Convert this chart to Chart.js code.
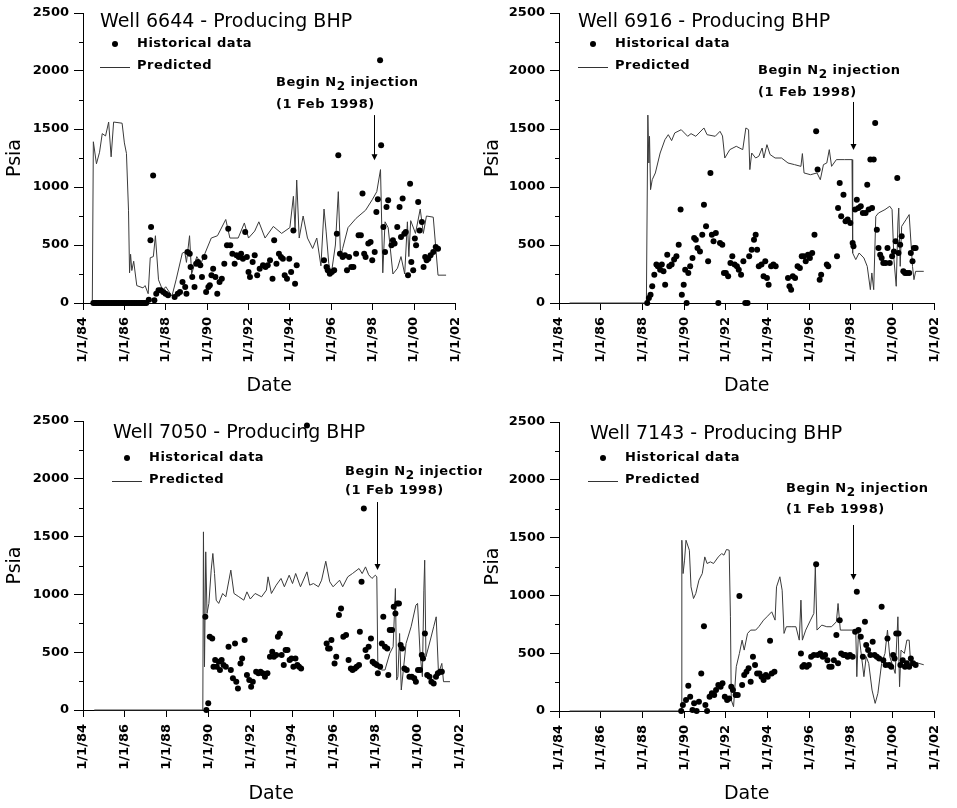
<!DOCTYPE html>
<html>
<head>
<meta charset="utf-8">
<script src="https://cdn.jsdelivr.net/npm/chart.js@4.4.1/dist/chart.umd.min.js"></script>
<style>
  body { margin: 0; background: #fff; }
  #wrap { position: relative; width: 957px; height: 808px; overflow: hidden; }
  canvas { position: absolute; }
</style>
</head>
<body>
<div id="wrap">
  <canvas id="c1" width="478" height="400" style="left:0;top:0;z-index:1"></canvas>
  <canvas id="c2" width="479" height="400" style="left:478px;top:0;z-index:2"></canvas>
  <canvas id="c3" width="482" height="408" style="left:0;top:400px;z-index:1"></canvas>
  <canvas id="c4" width="479" height="408" style="left:478px;top:400px;z-index:2"></canvas>
</div>
<script>
// x axis ticks (decimal year) and their labels
const tickYears = [1984, 1986, 1988, 1990, 1992, 1994, 1996, 1998, 2000, 2002];
const tickLabels = ['1/1/84', '1/1/86', '1/1/88', '1/1/90', '1/1/92', '1/1/94', '1/1/96', '1/1/98', '1/1/00', '1/1/02'];
const yTickLabels = ['0', '500', '1000', '1500', '2000', '2500'];
const injectionDate = 1998.08; // 1 Feb 1998

// ---- Well 6644 ----
const hist6644Dates = [
  1984.50,1984.58,1984.66,1984.74,1984.82,1984.90,1984.98,1985.06,1985.14,1985.22,
  1985.30,1985.38,1985.46,1985.54,1985.62,1985.70,1985.78,1985.86,1985.94,1986.02,
  1986.10,1986.18,1986.26,1986.34,1986.42,1986.50,1986.58,1986.66,1986.74,1986.82,
  1986.90,1986.98,1987.06,
  1987.18,1987.26,1987.29,1987.39,1987.45,1987.54,1987.65,1987.76,1987.88,1987.99,
  1988.11,1988.43,1988.58,1988.69,1988.81,1988.94,1989.00,1989.05,1989.16,1989.20,
  1989.28,1989.39,1989.47,1989.56,1989.67,1989.75,1989.87,1989.95,1990.06,1990.13,
  1990.21,1990.29,1990.40,1990.49,1990.60,1990.71,1990.83,1990.96,1991.02,1991.12,
  1991.22,1991.33,1991.42,1991.53,1991.64,1991.73,1991.84,1991.92,1992.00,1992.07,
  1992.20,1992.30,1992.42,1992.54,1992.70,1992.82,1992.93,1993.04,1993.16,1993.24,
  1993.35,1993.47,1993.57,1993.66,1993.75,1993.86,1993.97,1994.06,1994.17,1994.25,
  1994.33,1995.65,1995.77,1995.83,1995.93,1996.03,1996.14,1996.27,1996.34,1996.42,
  1996.55,1996.66,1996.76,1996.86,1996.97,1997.07,1997.20,1997.32,1997.43,1997.51,
  1997.59,1997.66,1997.79,1997.90,1997.98,1998.10,1998.18,1998.25,1998.36,1998.41,
  1998.52,1998.60,1998.67,1998.75,1998.91,1998.98,1999.06,1999.19,1999.30,1999.37,
  1999.45,1999.53,1999.60,1999.71,1999.81,1999.87,1999.96,2000.04,2000.10,2000.20,
  2000.27,2000.38,2000.46,2000.54,2000.61,2000.69,2000.80,2000.93,2001.05,2001.16
];
const hist6644Psia = [
  0,0,0,0,0,0,0,0,0,0,
  0,0,0,0,0,0,0,0,0,0,
  0,0,0,0,0,0,0,0,0,0,
  0,0,0,
  29,540,655,1100,23,80,109,109,95,80,
  66,52,80,95,181,138,80,440,425,310,
  224,138,339,353,325,224,397,95,138,152,
  239,296,224,80,181,210,339,497,641,497,
  425,339,411,397,425,382,612,397,267,224,
  353,411,239,296,325,310,325,368,210,540,
  339,425,397,382,239,210,382,267,626,167,
  325,368,310,282,253,267,282,598,1273,425,
  397,411,282,397,310,310,425,583,583,943,
  425,397,512,526,368,440,785,894,2092,1360,
  655,440,828,885,497,540,512,655,828,569,
  900,598,612,239,1029,353,282,555,497,871,
  626,698,310,397,368,382,411,440,483,468
];
const pred6644Dates = [
  1984.45,1984.50,1984.65,1984.80,1984.93,1985.09,1985.24,1985.36,1985.48,1985.89,
  1986.00,1986.10,1986.20,1986.25,1986.30,1986.36,1986.45,1986.60,1986.90,1987.00,
  1987.15,1987.25,1987.40,1987.50,1987.65,1987.85,1988.00,1988.30,1988.50,1988.80,
  1988.92,1989.00,1989.15,1989.25,1989.50,1989.70,1989.90,1990.20,1990.50,1990.90,
  1991.10,1991.50,1991.80,1992.00,1992.30,1992.50,1992.80,1993.20,1993.60,1994.00,
  1994.17,1994.25,1994.33,1994.45,1994.64,1994.85,1995.10,1995.30,1995.50,1995.65,
  1995.75,1995.88,1996.00,1996.20,1996.34,1996.45,1996.55,1996.81,1997.20,1997.66,
  1997.98,1998.20,1998.38,1998.49,1998.60,1998.75,1998.98,1999.20,1999.37,1999.55,
  1999.68,1999.75,1999.84,2000.07,2000.30,2000.45,2000.60,2000.93,2001.16,2001.55
];
const pred6644Psia = [
  0,1390,1200,1300,1460,1440,1560,1260,1560,1550,
  1380,1290,800,260,420,280,360,150,130,150,
  80,390,400,580,200,110,140,60,200,430,
  440,350,580,250,400,340,430,560,580,720,
  560,560,690,560,620,700,560,660,600,650,
  920,640,1060,560,750,560,470,560,320,810,
  620,340,250,500,960,400,470,650,730,800,
  890,960,1150,260,700,650,250,300,400,250,
  700,400,710,600,810,600,750,740,240,240
];

// ---- Well 6916 ----
const hist6916Dates = [
  1988.23,1988.31,1988.39,1988.47,1988.57,1988.67,1988.74,1988.85,1988.93,1989.01,
  1989.09,1989.19,1989.29,1989.40,1989.52,1989.63,1989.74,1989.83,1989.89,1989.98,
  1990.05,1990.12,1990.20,1990.29,1990.40,1990.48,1990.56,1990.64,1990.76,1990.87,
  1990.95,1991.05,1991.15,1991.26,1991.33,1991.41,1991.52,1991.64,1991.72,1991.83,
  1991.91,1992.00,1992.11,1992.22,1992.31,1992.42,1992.53,1992.62,1992.73,1992.84,
  1992.93,1993.04,1993.12,1993.24,1993.35,1993.43,1993.50,1993.58,1993.71,1993.81,
  1993.89,1993.97,1994.05,1994.17,1994.28,1994.39,1994.98,1995.05,1995.13,1995.21,
  1995.32,1995.44,1995.55,1995.64,1995.75,1995.83,1995.94,1996.03,1996.14,1996.25,
  1996.33,1996.40,1996.50,1996.57,1996.84,1996.91,1997.33,1997.38,1997.46,1997.53,
  1997.64,1997.74,1997.84,1997.97,1998.08,1998.12,1998.20,1998.28,1998.36,1998.47,
  1998.57,1998.70,1998.78,1998.85,1998.93,1999.01,1999.09,1999.16,1999.24,1999.32,
  1999.40,1999.47,1999.55,1999.66,1999.75,1999.86,1999.97,2000.06,2000.14,2000.22,
  2000.28,2000.36,2000.43,2000.51,2000.59,2000.68,2000.79,2000.87,2000.95,2001.02,2001.10
];
const hist6916Psia = [
  0,43,72,144,244,331,316,287,331,273,
  158,417,316,331,374,402,503,805,72,158,
  287,0,259,316,388,560,546,474,445,589,
  848,661,359,1121,589,532,604,0,517,503,
  259,259,230,345,402,331,316,287,244,359,
  0,0,402,460,546,589,460,316,331,230,
  359,216,158,316,331,316,216,144,115,230,
  216,316,302,402,402,359,417,388,431,589,
  1480,1150,201,244,331,316,402,819,1035,747,
  934,704,719,690,517,489,805,891,819,834,
  776,776,1020,805,1236,819,1236,1552,632,474,
  417,388,345,345,474,345,402,445,532,1078,
  431,503,575,273,259,259,259,431,359,474,474
];
const pred6916Dates = [
  1984.51,1988.19,1988.26,1988.31,1988.34,1988.39,1988.47,1988.62,1988.85,1989.08,
  1989.24,1989.40,1989.55,1989.86,1990.17,1990.33,1990.56,1990.95,1991.10,1991.49,
  1991.72,1991.84,1991.95,1992.19,1992.50,1992.81,1992.96,1993.09,1993.15,1993.24,
  1993.43,1993.58,1993.74,1993.82,1993.97,1994.12,1994.36,1994.67,1994.98,1995.29,
  1995.60,1995.67,1995.75,1996.06,1996.37,1996.53,1996.68,1996.84,1996.96,1997.07,
  1997.30,1997.69,1998.05,1998.08,1998.23,1998.39,1998.62,1998.78,1998.93,1999.00,
  1999.09,1999.19,1999.32,1999.63,1999.86,1999.97,2000.06,2000.17,2000.25,2000.29,
  2000.36,2000.43,2000.64,2000.79,2000.95,2001.02,2001.10,2001.49
];
const pred6916Psia = [
  0,0,1620,1207,1437,977,1063,1121,1293,1408,
  1451,1400,1466,1494,1437,1460,1437,1509,1451,1437,
  1480,1440,1250,1322,1351,1322,1509,1494,1150,1293,
  1250,1265,1336,1250,1365,1280,1250,1250,1207,1193,
  1178,1288,1121,1106,1121,1063,1193,1207,1322,1178,
  1236,1236,1236,431,374,431,388,316,115,259,
  115,747,776,805,834,805,374,144,690,819,
  316,661,719,762,316,201,273,273
];

// ---- Well 7050 ----
const hist7050Dates = [
  1989.85,1989.90,1989.99,1990.06,1990.18,1990.24,1990.32,1990.40,1990.49,1990.55,
  1990.63,1990.72,1990.83,1990.96,1991.07,1991.17,1991.27,1991.33,1991.41,1991.53,
  1991.61,1991.73,1991.84,1991.95,1992.04,1992.12,1992.28,1992.39,1992.49,1992.59,
  1992.70,1992.82,1992.94,1993.05,1993.13,1993.24,1993.32,1993.41,1993.50,1993.60,
  1993.69,1993.78,1993.88,1993.97,1994.06,1994.16,1994.25,1994.33,1994.43,1994.71,
  1995.65,1995.72,1995.80,1995.88,1996.03,1996.11,1996.24,1996.34,1996.45,1996.58,
  1996.70,1996.81,1996.89,1997.00,1997.09,1997.20,1997.24,1997.32,1997.43,1997.51,
  1997.59,1997.66,1997.77,1997.85,1997.94,1998.05,1998.10,1998.21,1998.29,1998.36,
  1998.44,1998.55,1998.60,1998.67,1998.78,1998.86,1998.94,1999.03,1999.11,1999.19,
  1999.26,1999.37,1999.48,1999.61,1999.72,1999.84,1999.92,2000.02,2000.12,2000.20,
  2000.26,2000.35,2000.46,2000.57,2000.66,2000.77,2000.88,2000.97,2001.08,2001.16
];
const hist7050Psia = [
  806,0,58,634,619,374,432,374,418,346,
  432,389,374,547,346,274,576,245,187,403,
  446,605,302,259,202,245,331,317,331,317,
  288,317,461,504,461,475,634,662,475,389,
  518,518,432,446,374,446,389,374,360,2462,
  576,533,533,605,403,461,821,878,634,648,
  432,360,346,360,374,389,677,1109,1742,518,
  461,547,619,418,403,389,317,374,576,806,
  547,533,302,691,691,893,835,922,922,562,
  533,360,346,288,288,274,245,346,346,475,
  446,662,302,288,245,230,288,317,331,331
];
const pred7050Dates = [
  1984.54,1989.73,1989.76,1989.81,1989.87,1989.93,1990.02,1990.13,1990.21,1990.29,
  1990.37,1990.49,1990.68,1990.83,1991.07,1991.22,1991.45,1991.69,1991.84,1992.00,
  1992.23,1992.54,1992.77,1992.85,1993.01,1993.24,1993.47,1993.63,1993.86,1994.02,
  1994.17,1994.40,1994.71,1994.84,1995.02,1995.26,1995.41,1995.61,1995.80,1995.96,
  1996.27,1996.42,1996.66,1996.89,1997.20,1997.35,1997.51,1997.66,1997.82,1997.98,
  1998.05,1998.10,1998.29,1998.44,1998.67,1998.83,1998.94,1999.00,1999.06,1999.14,
  1999.22,1999.45,1999.69,1999.92,2000.00,2000.12,2000.23,2000.30,2000.34,2000.40,
  2000.61,2000.77,2000.89,2001.00,2001.16,2001.24,2001.55
];
const pred7050Psia = [
  0,0,1541,374,1368,835,922,1210,1354,1181,
  950,922,1008,979,1210,1008,980,950,1022,960,
  1008,979,1037,1152,1008,1080,1138,1066,1166,1094,
  1181,1066,1195,1080,1094,1066,1123,1287,1109,1066,
  1123,1066,1152,1181,1224,1180,1238,1170,1138,1166,
  1152,374,346,346,490,547,1051,259,288,662,
  173,576,720,907,922,490,288,1037,1296,461,
  605,720,806,317,403,245,245
];

// ---- Well 7143 ----
const hist7143Dates = [
  1989.86,1989.94,1990.09,1990.20,1990.29,1990.40,1990.48,1990.60,1990.71,1990.82,
  1990.95,1991.02,1991.10,1991.22,1991.33,1991.44,1991.53,1991.64,1991.75,1991.84,
  1991.95,1992.06,1992.16,1992.26,1992.34,1992.47,1992.57,1992.65,1992.78,1992.88,
  1992.99,1993.09,1993.19,1993.30,1993.40,1993.50,1993.61,1993.71,1993.81,1993.92,
  1994.01,1994.12,1994.20,1994.33,1995.60,1995.67,1995.75,1995.88,1995.98,1996.09,
  1996.22,1996.33,1996.40,1996.53,1996.65,1996.76,1996.87,1996.96,1997.07,1997.18,
  1997.30,1997.38,1997.46,1997.53,1997.64,1997.74,1997.84,1997.95,1998.08,1998.20,
  1998.28,1998.36,1998.47,1998.57,1998.67,1998.73,1998.82,1998.93,1999.04,1999.13,
  1999.24,1999.35,1999.47,1999.55,1999.66,1999.75,1999.83,1999.93,2000.02,2000.09,
  2000.17,2000.28,2000.37,2000.48,2000.59,2000.68,2000.79,2000.87,2000.98,2001.10
];
const hist7143Psia = [
  0,52,95,219,124,9,66,0,81,325,
  734,52,0,124,153,138,181,225,210,239,
  124,95,109,210,181,138,138,994,225,311,
  340,369,253,469,397,325,325,297,268,311,
  297,608,325,340,498,383,397,383,397,469,
  484,1270,484,498,469,484,440,383,383,440,
  657,412,786,498,484,484,469,484,469,686,
  1031,700,642,469,772,570,527,484,599,484,
  469,455,901,440,397,628,397,383,484,455,
  671,671,397,440,383,412,383,455,412,397
];
const pred7143Dates = [
  1984.51,1989.86,1989.89,1989.95,1990.02,1990.09,1990.25,1990.33,1990.45,1990.56,
  1990.71,1990.87,1990.99,1991.10,1991.26,1991.41,1991.64,1991.80,1991.91,1992.03,
  1992.16,1992.22,1992.26,1992.37,1992.50,1992.65,1992.78,1992.88,1993.04,1993.19,
  1993.43,1993.58,1993.81,1993.97,1994.20,1994.36,1994.43,1994.59,1994.70,1994.79,
  1994.90,1995.13,1995.36,1995.52,1995.60,1995.67,1995.83,1996.06,1996.22,1996.29,
  1996.37,1996.60,1996.84,1997.07,1997.30,1997.38,1997.49,1998.08,1998.23,1998.28,
  1998.36,1998.47,1998.62,1998.73,1998.85,1999.01,1999.16,1999.29,1999.47,1999.63,
  1999.75,1999.86,2000.02,2000.12,2000.25,2000.33,2000.40,2000.56,2000.68,2000.79,
  2000.87,2001.10,2001.49
];
const pred7143Psia = [
  0,0,1477,1189,1305,1477,1391,1074,973,1017,
  1132,1189,1333,1276,1290,1276,1333,1362,1348,1397,
  1391,815,95,37,383,498,613,527,671,700,
  700,729,786,815,858,786,1074,1161,1045,671,
  729,729,729,613,959,613,700,786,844,1247,
  700,743,729,729,772,930,700,700,686,297,
  700,527,297,470,412,181,66,153,412,498,
  700,470,383,325,815,210,527,498,613,613,
  383,420,400
];

const FONT = '"DejaVu Sans", "Liberation Sans", Arial, sans-serif';

function toPoints(dates, vals) {
  return dates.map((d, i) => ({ x: d, y: vals[i] }));
}

const decorPlugin = {
  id: 'wellDecor',
  afterDraw(chart, args, o) {
    const { ctx, chartArea, scales: { x, y } } = chart;
    ctx.save();
    ctx.strokeStyle = '#000';
    ctx.fillStyle = '#000';
    ctx.lineWidth = 1;
    // minor y ticks between labelled ticks
    for (let i = 0; i < y.ticks.length - 1; i++) {
      const v = (y.ticks[i].value + y.ticks[i + 1].value) / 2;
      const py = Math.round(y.getPixelForValue(v)) + 0.5;
      ctx.beginPath();
      ctx.moveTo(chartArea.left - 4, py);
      ctx.lineTo(chartArea.left, py);
      ctx.stroke();
    }
    ctx.textBaseline = 'middle';
    ctx.textAlign = 'left';
    // title
    ctx.font = '19px ' + FONT;
    ctx.fillText(o.title, o.titleX, o.titleY);
    // legend
    ctx.font = 'bold 13px ' + FONT;
    ctx.letterSpacing = '0.5px';
    ctx.beginPath();
    ctx.arc(o.legX + 15, o.legY, 3, 0, Math.PI * 2);
    ctx.fill();
    ctx.fillText('Historical data', o.legX + 37, o.legY);
    ctx.strokeStyle = '#333';
    ctx.beginPath();
    ctx.moveTo(o.legX, o.legY + 23.5);
    ctx.lineTo(o.legX + 30, o.legY + 23.5);
    ctx.stroke();
    ctx.fillText('Predicted', o.legX + 37, o.legY + 22);
    // injection annotation
    let tx = o.noteX;
    ctx.fillText('Begin N', tx, o.noteY);
    tx += ctx.measureText('Begin N').width;
    ctx.font = 'bold 12px ' + FONT;
    ctx.fillText('2', tx, o.noteY + 4);
    tx += ctx.measureText('2').width;
    ctx.font = 'bold 13px ' + FONT;
    ctx.fillText(' injection', tx, o.noteY);
    ctx.fillText('(1 Feb 1998)', o.noteX, o.noteY + o.noteGap);
    // arrow
    const ax = Math.round(x.getPixelForValue(injectionDate)) + 0.5;
    const a1 = y.getPixelForValue(o.arrowFrom);
    const a2 = y.getPixelForValue(o.arrowTo);
    ctx.strokeStyle = '#000';
    ctx.beginPath();
    ctx.moveTo(ax, a1);
    ctx.lineTo(ax, a2 - 5);
    ctx.stroke();
    ctx.beginPath();
    ctx.moveTo(ax - 3, a2 - 6);
    ctx.lineTo(ax + 3, a2 - 6);
    ctx.lineTo(ax, a2);
    ctx.closePath();
    ctx.fill();
    ctx.restore();
  }
};

function wellChart(id, p) {
  const tickFont = { family: FONT, size: 13, weight: 'bold' };
  const titleFont = { family: FONT, size: 19 };
  new Chart(document.getElementById(id), {
    type: 'scatter',
    data: {
      datasets: [
        {
          label: 'Historical data',
          data: toPoints(p.histDates, p.histPsia),
          pointRadius: 3,
          pointBackgroundColor: '#000',
          pointBorderWidth: 0,
          clip: false
        },
        {
          label: 'Predicted',
          data: toPoints(p.predDates, p.predPsia),
          showLine: true,
          borderColor: '#3a3a3a',
          borderWidth: 1,
          pointRadius: 0,
          clip: false
        }
      ]
    },
    options: {
      responsive: false,
      animation: false,
      events: [],
      layout: { padding: { left: 0, top: p.padTop, right: p.padRight, bottom: 0 } },
      plugins: {
        legend: { display: false },
        tooltip: { enabled: false },
        wellDecor: p.decor
      },
      scales: {
        x: {
          type: 'linear',
          min: 1984,
          max: 2002,
          afterBuildTicks(scale) {
            scale.ticks = tickYears.map(v => ({ value: v }));
          },
          afterFit(scale) { scale.height = p.xh; },
          ticks: {
            autoSkip: false,
            minRotation: 90,
            maxRotation: 90,
            padding: 7,
            color: '#000',
            font: tickFont,
            callback: v => tickLabels[tickYears.indexOf(v)]
          },
          grid: { drawOnChartArea: false, tickLength: 7, color: '#000' },
          border: { color: '#000', width: 1 },
          title: { display: true, text: 'Date', color: '#000', font: titleFont, padding: { top: 0, bottom: 3 } }
        },
        y: {
          min: 0,
          max: 2500,
          afterFit(scale) { scale.width = p.yw; },
          ticks: {
            stepSize: 500,
            padding: 5,
            color: '#000',
            font: tickFont,
            callback: v => yTickLabels[v / 500]
          },
          grid: { drawOnChartArea: false, tickLength: 9, color: '#000' },
          border: { color: '#000', width: 1 },
          title: { display: true, text: 'Psia', color: '#000', font: titleFont, padding: { top: 4, bottom: 0 } }
        }
      }
    },
    plugins: [decorPlugin]
  });
}

wellChart('c1', {
  histDates: hist6644Dates, histPsia: hist6644Psia,
  predDates: pred6644Dates, predPsia: pred6644Psia,
  padTop: 13, padRight: 8, xh: 97, yw: 83,
  decor: { title: 'Well 6644 - Producing BHP', titleX: 100, titleY: 22,
    legX: 100, legY: 44, noteX: 276, noteY: 83, noteGap: 22, arrowFrom: 1620, arrowTo: 1230 }
});
wellChart('c2', {
  histDates: hist6916Dates, histPsia: hist6916Psia,
  predDates: pred6916Dates, predPsia: pred6916Psia,
  padTop: 13, padRight: 11, xh: 97, yw: 81,
  decor: { title: 'Well 6916 - Producing BHP', titleX: 100, titleY: 22,
    legX: 100, legY: 44, noteX: 280, noteY: 71, noteGap: 22, arrowFrom: 1733, arrowTo: 1319 }
});
wellChart('c3', {
  histDates: hist7050Dates, histPsia: hist7050Psia,
  predDates: pred7050Dates, predPsia: pred7050Psia,
  padTop: 21, padRight: 12, xh: 98, yw: 83,
  decor: { title: 'Well 7050 - Producing BHP', titleX: 113, titleY: 33,
    legX: 112, legY: 58, noteX: 345, noteY: 72, noteGap: 19, arrowFrom: 1799, arrowTo: 1211 }
});
wellChart('c4', {
  histDates: hist7143Dates, histPsia: hist7143Psia,
  predDates: pred7143Dates, predPsia: pred7143Psia,
  padTop: 22, padRight: 11, xh: 97, yw: 81,
  decor: { title: 'Well 7143 - Producing BHP', titleX: 112, titleY: 34,
    legX: 110, legY: 58, noteX: 308, noteY: 89, noteGap: 21, arrowFrom: 1609, arrowTo: 1133 }
});
</script>
</body>
</html>
